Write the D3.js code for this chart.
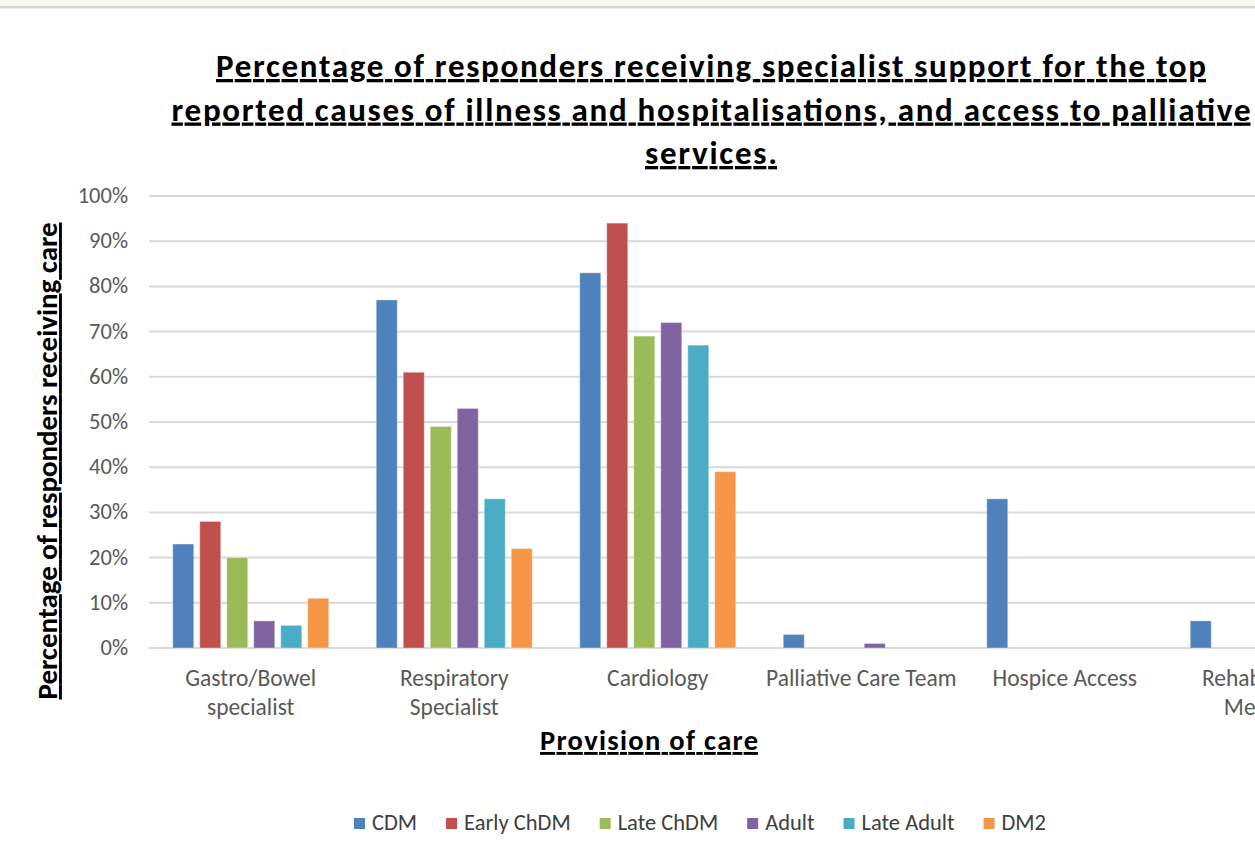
<!DOCTYPE html>
<html>
<head>
<meta charset="utf-8">
<script src="https://cdn.jsdelivr.net/npm/d3@7"></script>
<style>
  body { margin: 0; background: #fff; overflow: hidden; }
  svg { display: block; font-family: Carlito, Calibri, Lato, sans-serif; }
  .ul { text-decoration: underline; }
</style>
</head>
<body>
<div id="chart"></div>
<script>
// chart data
let categories = [
  ["Gastro/Bowel", "specialist"],
  ["Respiratory", "Specialist"],
  ["Cardiology"],
  ["Palliative Care Team"],
  ["Hospice Access"],
  ["Rehabilitation", "Medicine"]
];
let series = ["CDM", "Early ChDM", "Late ChDM", "Adult", "Late Adult", "DM2"];
let colors = ["#4f81bd", "#c0504d", "#9bbb59", "#8064a2", "#4bacc6", "#f79646"];

// percent values, one array per series, in category order
let cdm       = [23, 77, 83, 3, 33, 6];
let earlyChdm = [28, 61, 94, 0, 0, 0];
let lateChdm  = [20, 49, 69, 0, 0, 0];
let adult     = [6, 53, 72, 1, 0, 0];
let lateAdult = [5, 33, 67, 0, 0, 0];
let dm2       = [11, 22, 39, 0, 0, 0];
let values = [cdm, earlyChdm, lateChdm, adult, lateAdult, dm2];

let yTicks = [0, 10, 20, 30, 40, 50, 60, 70, 80, 90, 100];

let titleLines = [
  "Percentage of responders receiving specialist support for the top",
  "reported causes of illness and hospitalisations, and access to palliative",
  "services."
];
// widths the title lines take in the picture
let titleWidths = [990, 1079, 132];

////////////////////////////////////////////////////////////////////////
// svg canvas
let width = 1255;
let height = 846;

let svg = d3.select("#chart")
  .append("svg")
  .attr("width", width).attr("height", height);

// top strip of the screenshot
svg.append("rect").attr("x", 0).attr("y", 0).attr("width", width).attr("height", 6).attr("fill", "#f8faf1");
svg.append("rect").attr("x", 0).attr("y", 6).attr("width", width).attr("height", 2).attr("fill", "#d6d6d6");
svg.append("rect").attr("x", 0).attr("y", 8).attr("width", width).attr("height", 1).attr("fill", "#ececec");

////////////////////////////////////////////////////////////////////////
// scales
let plotLeft = 149;
let step = 203.5;

let xScale = d3.scaleBand()
  .domain(d3.range(categories.length))
  .range([plotLeft, plotLeft + step * categories.length]);

// bar group is 162px wide, centred in its band
let xInner = d3.scaleBand()
  .domain(series)
  .range([(xScale.bandwidth() - 162) / 2, (xScale.bandwidth() + 162) / 2])
  .paddingInner(0.222)
  .paddingOuter(0.111);

let yScale = d3.scaleLinear()
  .domain([0, 100])
  .range([648, 196]);

////////////////////////////////////////////////////////////////////////
// gridlines and y tick labels
svg.append("g")
  .selectAll("line")
  .data(yTicks)
  .enter()
  .append("line")
  .attr("x1", plotLeft)
  .attr("x2", width)
  .attr("y1", d => yScale(d))
  .attr("y2", d => yScale(d))
  .attr("stroke", "#d9d9d9")
  .attr("stroke-width", 2);

svg.append("g")
  .selectAll("text")
  .data(yTicks)
  .enter()
  .append("text")
  .attr("x", 128)
  .attr("y", d => yScale(d) + 7)
  .attr("text-anchor", "end")
  .attr("font-size", 22.5)
  .attr("fill", "#595959")
  .text(d => d + "%");

////////////////////////////////////////////////////////////////////////
// bars
let groups = svg.append("g")
  .selectAll("g")
  .data(series)
  .enter()
  .append("g")
  .attr("fill", (d, i) => colors[i]);

groups.selectAll("rect")
  .data((s, si) => values[si].map((v, ci) => ({ s: s, ci: ci, v: v })))
  .enter()
  .filter(d => d.v > 0)
  .append("rect")
  .attr("x", d => xScale(d.ci) + xInner(d.s))
  .attr("y", d => yScale(d.v))
  .attr("width", xInner.bandwidth())
  .attr("height", d => yScale(0) - yScale(d.v))
  .attr("stroke", "#ffffff")
  .attr("stroke-opacity", 0.35)
  .attr("stroke-width", 1);

////////////////////////////////////////////////////////////////////////
// category labels
svg.append("g")
  .selectAll("text")
  .data(categories)
  .enter()
  .append("text")
  .attr("text-anchor", "middle")
  .attr("font-size", 23.5)
  .attr("fill", "#595959")
  .each(function (lines, i) {
    let t = d3.select(this);
    lines.forEach(function (line, j) {
      t.append("tspan")
        .attr("x", xScale(i) + xScale.bandwidth() / 2)
        .attr("y", 686 + j * 29)
        .text(line);
    });
  });

////////////////////////////////////////////////////////////////////////
// titles
svg.append("g")
  .selectAll("text")
  .data(titleLines)
  .enter()
  .append("text")
  .classed("ul", true)
  .attr("x", 711)
  .attr("y", (d, i) => 77 + i * 43.5)
  .attr("text-anchor", "middle")
  .attr("font-size", 33)
  .attr("font-weight", "bold")
  .attr("fill", "#000")
  .attr("textLength", (d, i) => titleWidths[i])
  .attr("lengthAdjust", "spacing")
  .text(d => d);

svg.append("text")
  .classed("ul", true)
  .attr("transform", "translate(57,461) rotate(-90)")
  .attr("text-anchor", "middle")
  .attr("font-size", 29)
  .attr("font-weight", "bold")
  .attr("fill", "#000")
  .attr("textLength", 477)
  .attr("lengthAdjust", "spacing")
  .text("Percentage of responders receiving care");

svg.append("text")
  .classed("ul", true)
  .attr("x", 649)
  .attr("y", 750)
  .attr("text-anchor", "middle")
  .attr("font-size", 28.5)
  .attr("font-weight", "bold")
  .attr("fill", "#000")
  .attr("textLength", 218)
  .attr("lengthAdjust", "spacing")
  .text("Provision of care");

////////////////////////////////////////////////////////////////////////
// legend, laid out left to right then centred
let legend = svg.append("g");
let cursor = 0;
let gap = 29;
series.forEach(function (s, i) {
  let item = legend.append("g").attr("transform", "translate(" + cursor + ",0)");
  item.append("rect")
    .attr("x", 0).attr("y", -12)
    .attr("width", 11).attr("height", 11)
    .attr("fill", colors[i]);
  let label = item.append("text")
    .attr("x", 18)
    .attr("y", 0)
    .attr("font-size", 22.5)
    .attr("fill", "#404040")
    .text(s);
  cursor += 18 + label.node().getComputedTextLength() + gap;
});
let legendWidth = cursor - gap;
legend.attr("transform", "translate(" + (700 - legendWidth / 2) + ",830)");
</script>
</body>
</html>
